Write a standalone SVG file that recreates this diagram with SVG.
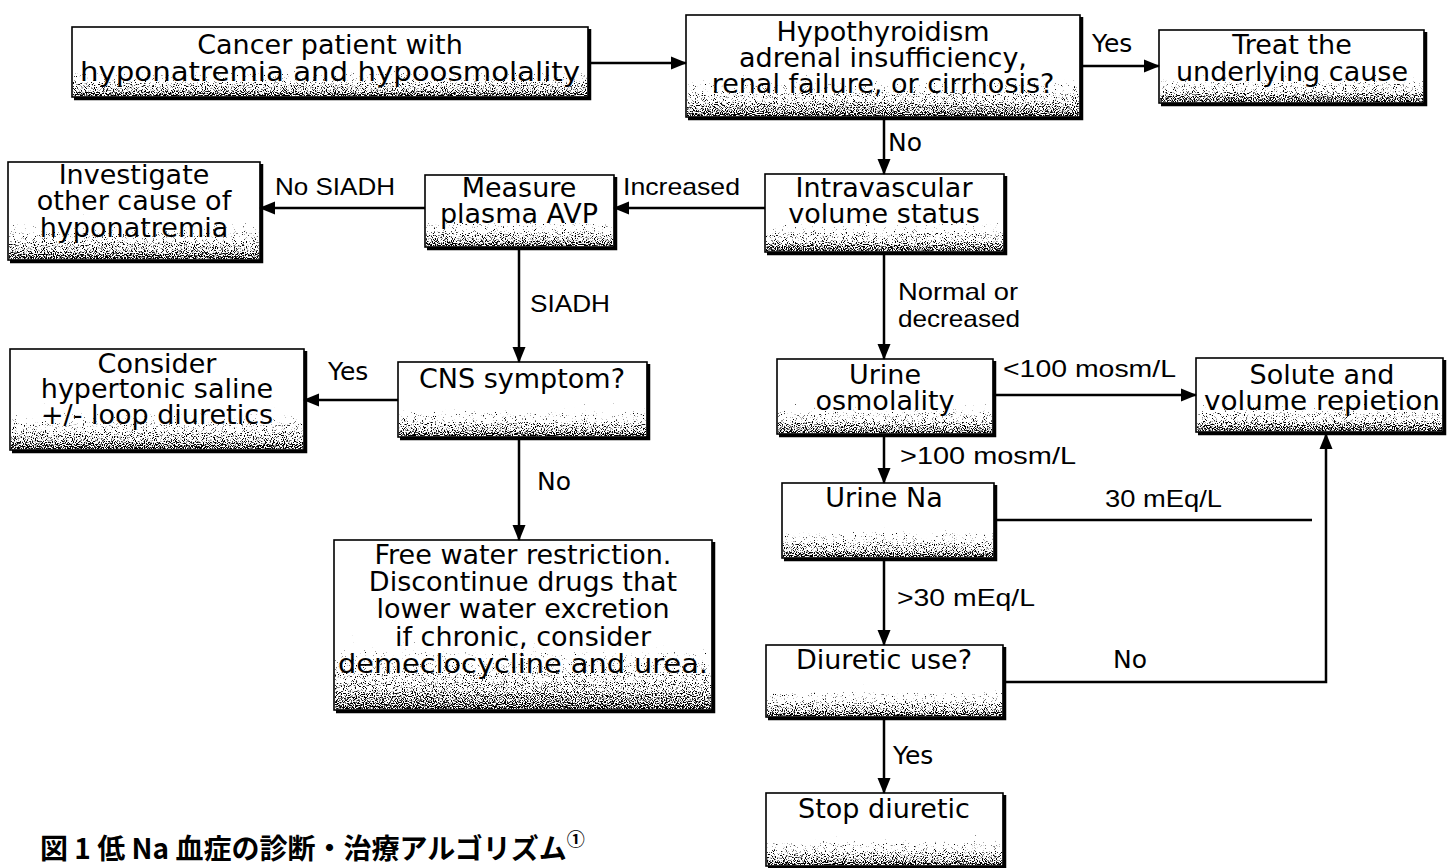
<svg xmlns="http://www.w3.org/2000/svg" width="1447" height="868" viewBox="0 0 1447 868">
<style>
.box{fill:#fff;stroke:#000;stroke-width:1.6}
.sh{fill:none;stroke:#000;stroke-width:3.5}
.t{font-family:"DejaVu Sans",Verdana,sans-serif;font-size:27px;fill:#000;text-anchor:middle}
.l{font-family:"DejaVu Sans",Verdana,sans-serif;font-size:25px;fill:#000}
.n{font-family:"Liberation Sans Narrow","Liberation Sans",Arial,sans-serif;font-size:24px;fill:#000}
.c{stroke:#000;stroke-width:2.5;fill:none}
.cap{font-family:"Noto Sans CJK JP","Noto Sans CJK SC",sans-serif;font-size:28px;font-weight:bold;fill:#000}
</style>
<defs>
<marker id="ah" markerUnits="userSpaceOnUse" markerWidth="16" markerHeight="16" viewBox="0 0 16 16" refX="15" refY="8" orient="auto">
<path d="M0,1.5 L16,8 L0,14.5 Z" fill="#000"/>
</marker>
<linearGradient id="og" x1="0" y1="0" x2="0" y2="1">
<stop offset="0" stop-color="#000" stop-opacity="0"/>
<stop offset="0.45" stop-color="#000" stop-opacity="0.15"/>
<stop offset="0.7" stop-color="#000" stop-opacity="0.4"/>
<stop offset="0.88" stop-color="#000" stop-opacity="0.52"/>
<stop offset="1" stop-color="#000" stop-opacity="0.64"/>
</linearGradient>
<filter id="speck" x="0" y="0" width="1" height="1" color-interpolation-filters="sRGB">
<feTurbulence type="fractalNoise" baseFrequency="0.9" numOctaves="1" seed="7" result="n"/>
<feColorMatrix in="n" type="matrix" values="0 0 0 0 0  0 0 0 0 0  0 0 0 0 0  1 0 0 0 0" result="na"/>
<feComposite in="SourceGraphic" in2="na" operator="arithmetic" k1="0" k2="9" k3="9" k4="-9.5"/>
</filter>
</defs>
<rect width="1447" height="868" fill="#fff"/>

<g id="n1">
<rect class="box" x="72" y="27" width="516" height="70"/>
<rect x="73" y="28" width="514" height="68" fill="url(#og)" filter="url(#speck)"/>
<path class="sh" d="M74,98.5 H589.5 V29"/>
<text class="t" x="330" y="54">Cancer patient with</text>
<text class="t" x="330" y="81" textLength="500" lengthAdjust="spacingAndGlyphs">hyponatremia and hypoosmolality</text>
</g>

<g id="n2">
<rect class="box" x="686" y="15" width="394" height="102"/>
<rect x="687" y="16" width="392" height="100" fill="url(#og)" filter="url(#speck)"/>
<path class="sh" d="M688,118.5 H1081.5 V17"/>
<text class="t" x="883" y="41">Hypothyroidism</text>
<text class="t" x="883" y="67">adrenal insufficiency,</text>
<text class="t" x="883" y="93">renal failure, or cirrhosis?</text>
</g>

<g id="n3">
<rect class="box" x="1159" y="30" width="265" height="73"/>
<rect x="1160" y="31" width="263" height="71" fill="url(#og)" filter="url(#speck)"/>
<path class="sh" d="M1161,104.5 H1425.5 V32"/>
<text class="t" x="1292" y="54">Treat the</text>
<text class="t" x="1292" y="81">underlying cause</text>
</g>

<g id="n4">
<rect class="box" x="8" y="162" width="252" height="98"/>
<rect x="9" y="163" width="250" height="96" fill="url(#og)" filter="url(#speck)"/>
<path class="sh" d="M10,261.5 H261.5 V164"/>
<text class="t" x="134" y="184">Investigate</text>
<text class="t" x="134" y="210">other cause of</text>
<text class="t" x="134" y="237">hyponatremia</text>
</g>

<g id="n5">
<rect class="box" x="425" y="175" width="189" height="72"/>
<rect x="426" y="176" width="187" height="70" fill="url(#og)" filter="url(#speck)"/>
<path class="sh" d="M427,248.5 H615.5 V177"/>
<text class="t" x="519" y="197">Measure</text>
<text class="t" x="519" y="223">plasma AVP</text>
</g>

<g id="n6">
<rect class="box" x="765" y="174" width="239" height="78"/>
<rect x="766" y="175" width="237" height="76" fill="url(#og)" filter="url(#speck)"/>
<path class="sh" d="M767,253.5 H1005.5 V176"/>
<text class="t" x="884" y="197">Intravascular</text>
<text class="t" x="884" y="223">volume status</text>
</g>

<g id="n7">
<rect class="box" x="10" y="349" width="294" height="101"/>
<rect x="11" y="350" width="292" height="99" fill="url(#og)" filter="url(#speck)"/>
<path class="sh" d="M12,451.5 H305.5 V351"/>
<text class="t" x="157" y="373">Consider</text>
<text class="t" x="157" y="398">hypertonic saline</text>
<text class="t" x="157" y="424">+/- loop diuretics</text>
</g>

<g id="n8">
<rect class="box" x="398" y="362" width="249" height="75"/>
<rect x="399" y="363" width="247" height="73" fill="url(#og)" filter="url(#speck)"/>
<path class="sh" d="M400,438.5 H648.5 V364"/>
<text class="t" x="522" y="388">CNS symptom?</text>
</g>

<g id="n9">
<rect class="box" x="777" y="359" width="216" height="75"/>
<rect x="778" y="360" width="214" height="73" fill="url(#og)" filter="url(#speck)"/>
<path class="sh" d="M779,435.5 H994.5 V361"/>
<text class="t" x="885" y="384">Urine</text>
<text class="t" x="885" y="410">osmolality</text>
</g>

<g id="n10">
<rect class="box" x="1196" y="358" width="247" height="74"/>
<rect x="1197" y="359" width="245" height="72" fill="url(#og)" filter="url(#speck)"/>
<path class="sh" d="M1198,433.5 H1444.5 V360"/>
<text class="t" x="1322" y="384">Solute and</text>
<text class="t" x="1322" y="410" textLength="236" lengthAdjust="spacingAndGlyphs">volume repietion</text>
</g>

<g id="n11">
<rect class="box" x="782" y="483" width="212" height="75"/>
<rect x="783" y="484" width="210" height="73" fill="url(#og)" filter="url(#speck)"/>
<path class="sh" d="M784,559.5 H995.5 V485"/>
<text class="t" x="884" y="507">Urine Na</text>
</g>

<g id="n12">
<rect class="box" x="334" y="540" width="378" height="170"/>
<rect x="335" y="541" width="376" height="168" fill="url(#og)" filter="url(#speck)"/>
<path class="sh" d="M336,711.5 H713.5 V542"/>
<text class="t" x="523" y="564">Free water restriction.</text>
<text class="t" x="523" y="591">Discontinue drugs that</text>
<text class="t" x="523" y="618">lower water excretion</text>
<text class="t" x="523" y="646">if chronic, consider</text>
<text class="t" x="523" y="673" textLength="370" lengthAdjust="spacingAndGlyphs">demeclocycline and urea.</text>
</g>

<g id="n13">
<rect class="box" x="766" y="645" width="237" height="72"/>
<rect x="767" y="646" width="235" height="70" fill="url(#og)" filter="url(#speck)"/>
<path class="sh" d="M768,718.5 H1004.5 V647"/>
<text class="t" x="884" y="669">Diuretic use?</text>
</g>

<g id="n14">
<rect class="box" x="766" y="793" width="237" height="73"/>
<rect x="767" y="794" width="235" height="71" fill="url(#og)" filter="url(#speck)"/>
<path class="sh" d="M768,867.5 H1004.5 V795"/>
<text class="t" x="884" y="818">Stop diuretic</text>
</g>

<g id="connectors">
<path class="c" d="M590,63 H686" marker-end="url(#ah)"/>
<path class="c" d="M1082,66 H1159" marker-end="url(#ah)"/>
<path class="c" d="M884,119 V174" marker-end="url(#ah)"/>
<path class="c" d="M765,208 H614" marker-end="url(#ah)"/>
<path class="c" d="M425,208 H260" marker-end="url(#ah)"/>
<path class="c" d="M519,249 V362" marker-end="url(#ah)"/>
<path class="c" d="M398,400 H304" marker-end="url(#ah)"/>
<path class="c" d="M519,439 V540" marker-end="url(#ah)"/>
<path class="c" d="M884,254 V359" marker-end="url(#ah)"/>
<path class="c" d="M995,395 H1196" marker-end="url(#ah)"/>
<path class="c" d="M884,436 V483" marker-end="url(#ah)"/>
<path class="c" d="M996,520 H1312"/>
<path class="c" d="M884,560 V645" marker-end="url(#ah)"/>
<path class="c" d="M1005,682 H1326 V434" marker-end="url(#ah)"/>
<path class="c" d="M884,719 V793" marker-end="url(#ah)"/>
<text class="l" x="1092" y="52">Yes</text>
<text class="l" x="888" y="151">No</text>
<text class="n" x="275" y="195" textLength="120" lengthAdjust="spacingAndGlyphs">No SIADH</text>
<text class="n" x="623" y="195" textLength="117" lengthAdjust="spacingAndGlyphs">Increased</text>
<text class="n" x="530" y="312" textLength="80" lengthAdjust="spacingAndGlyphs">SIADH</text>
<text class="l" x="328" y="380">Yes</text>
<text class="l" x="537" y="490">No</text>
<text class="n" x="898" y="300" textLength="120" lengthAdjust="spacingAndGlyphs">Normal or</text>
<text class="n" x="898" y="327" textLength="122" lengthAdjust="spacingAndGlyphs">decreased</text>
<text class="n" x="1003" y="377" textLength="173" lengthAdjust="spacingAndGlyphs">&lt;100 mosm/L</text>
<text class="n" x="900" y="464" textLength="176" lengthAdjust="spacingAndGlyphs">&gt;100 mosm/L</text>
<text class="n" x="1105" y="507" textLength="117" lengthAdjust="spacingAndGlyphs">30 mEq/L</text>
<text class="n" x="897" y="606" textLength="138" lengthAdjust="spacingAndGlyphs">&gt;30 mEq/L</text>
<text class="l" x="1113" y="668">No</text>
<text class="l" x="893" y="764">Yes</text>
</g>

<g id="caption">
<text class="cap" x="40" y="859">図 1 低 Na 血症の診断・治療アルゴリズム<tspan font-size="18" dy="-13">①</tspan></text>
</g>
</svg>
